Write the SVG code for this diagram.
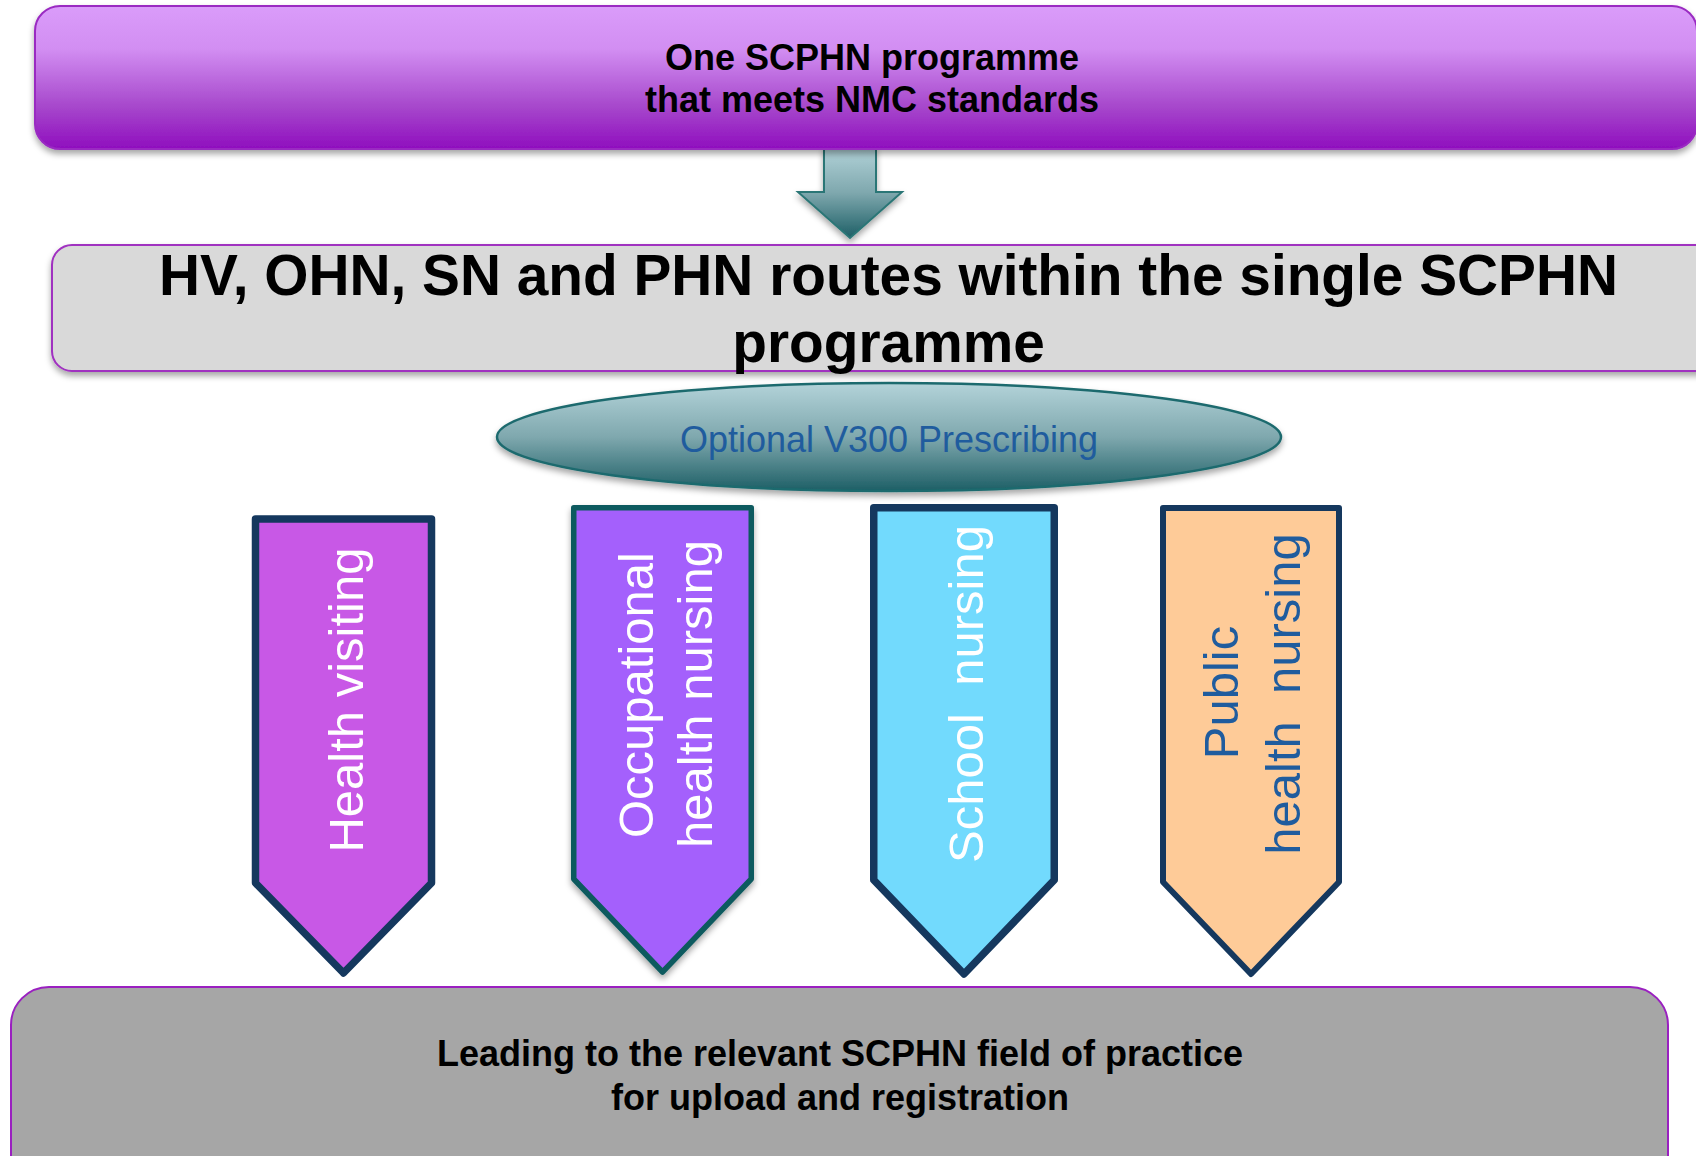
<svg xmlns="http://www.w3.org/2000/svg" width="1696" height="1156" viewBox="0 0 1696 1156">
<defs>
<linearGradient id="gTop" x1="0" y1="0" x2="0" y2="1">
<stop offset="0" stop-color="#DA9CFA"/>
<stop offset="0.3" stop-color="#D28EF2"/>
<stop offset="0.7" stop-color="#A748CC"/>
<stop offset="1" stop-color="#8F0EBE"/>
</linearGradient>
<linearGradient id="gTeal" x1="0" y1="0" x2="0" y2="1">
<stop offset="0" stop-color="#B3D3D9"/>
<stop offset="0.5" stop-color="#7FA8AE"/>
<stop offset="1" stop-color="#1D5F66"/>
</linearGradient>
<filter id="sh" x="-5%" y="-10%" width="110%" height="130%">
<feDropShadow dx="0" dy="4" stdDeviation="3" flood-color="#000" flood-opacity="0.35"/>
</filter>
</defs>
<style>
.b{font-family:"Liberation Sans",Arial,sans-serif;font-weight:bold;fill:#000;text-anchor:middle}
.r{font-family:"Liberation Sans",Arial,sans-serif;text-anchor:middle}
.arrowShape{stroke-linejoin:round}
.navy{stroke:#15385E}
</style>
<rect width="1696" height="1156" fill="#FFFFFF"/>

<g id="connectors">
<path d="M824,147 H876 V192 H902 L850,238 L798,192 H824 Z" fill="url(#gTeal)" stroke="#2B7676" stroke-width="2" filter="url(#sh)"/>
</g>

<g id="top-box">
<rect x="35" y="6" width="1662" height="143" rx="25" fill="url(#gTop)" stroke="#9A2BC2" stroke-width="2" filter="url(#sh)"/>
<text class="b" x="872" y="70" font-size="36">One SCPHN programme</text>
<text class="b" x="872" y="112" font-size="36">that meets NMC standards</text>
</g>

<g id="routes-box">
<rect x="52" y="245" width="1700" height="126" rx="20" fill="#D9D9D9" stroke="#A030C0" stroke-width="2" filter="url(#sh)"/>
<text class="b" x="888.5" y="295" font-size="56.8">HV, OHN, SN and PHN routes within the single SCPHN</text>
<text class="b" x="888.5" y="362" font-size="56.8">programme</text>
</g>

<g id="v300">
<ellipse cx="889" cy="437" rx="392" ry="54" fill="url(#gTeal)" stroke="#1D6A6E" stroke-width="2.5" filter="url(#sh)"/>
<text class="r" x="889" y="452" font-size="36" fill="#1F5C9E">Optional V300 Prescribing</text>
</g>

<g id="hv">
<path class="arrowShape navy" d="M255.5,519 H431.5 V883 L343.5,973 L255.5,883 Z" fill="#C858E6" stroke-width="7.5"/>
<text class="r" font-size="49" fill="#FFFFFF" transform="translate(363,700) rotate(-90)">Health visiting</text>
</g>

<g id="ohn">
<path class="arrowShape" d="M573.75,507.75 H751.25 V879 L662.5,972 L573.75,879 Z" fill="#A461FC" stroke="#0F5A5E" stroke-width="5.5" filter="url(#sh)"/>
<text class="r" font-size="49" fill="#FFFFFF" transform="translate(653,695) rotate(-90)">Occupational</text>
<text class="r" font-size="49" fill="#FFFFFF" transform="translate(712,694) rotate(-90)">health nursing</text>
</g>

<g id="sn">
<path class="arrowShape navy" d="M873.75,507.75 H1054.25 V880 L964,974 L873.75,880 Z" fill="#72DAFD" stroke-width="7.5"/>
<text class="r" font-size="49" fill="#FFFFFF" xml:space="preserve" transform="translate(983,694) rotate(-90)">School  nursing</text>
</g>

<g id="phn">
<path class="arrowShape navy" d="M1163,508 H1339 V882 L1251,974 L1163,882 Z" fill="#FECB98" stroke-width="6"/>
<text class="r" font-size="49" fill="#1F5C9E" transform="translate(1238,692.5) rotate(-90)">Public</text>
<text class="r" font-size="49" fill="#1F5C9E" xml:space="preserve" transform="translate(1300,694) rotate(-90)">health  nursing</text>
</g>

<g id="result-box">
<rect x="11" y="987" width="1657" height="220" rx="38" fill="#A6A6A6" stroke="#9A20C0" stroke-width="2"/>
<text class="b" x="840" y="1066" font-size="36">Leading to the relevant SCPHN field of practice</text>
<text class="b" x="840" y="1110" font-size="36">for upload and registration</text>
</g>
</svg>
